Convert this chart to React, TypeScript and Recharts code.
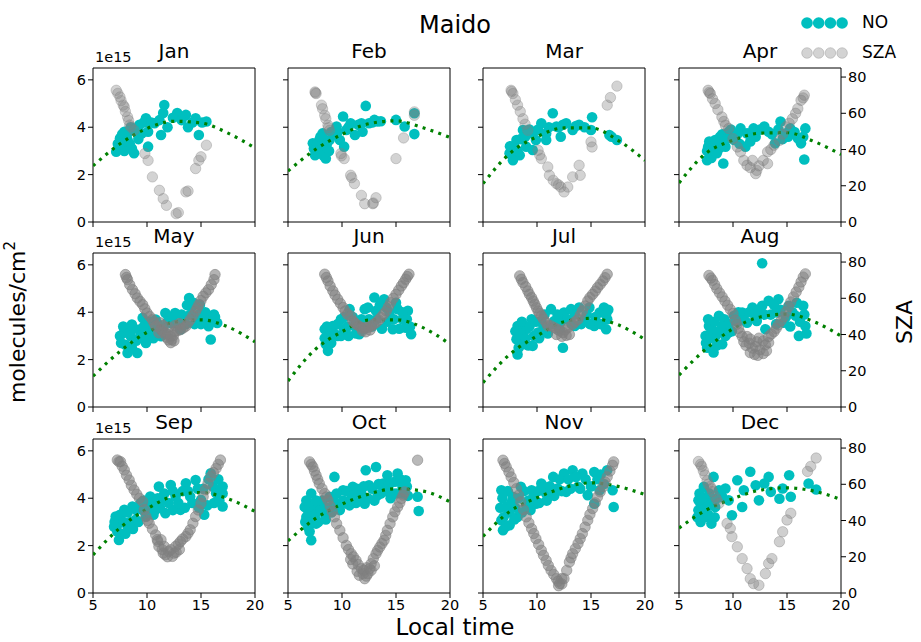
import { ComposedChart, Scatter, XAxis, YAxis, ReferenceLine } from 'recharts'

// 12 monthly panels, NO column (1e15 molecules/cm2) and SZA (deg) against local time (h)
const MONTHS = ['Jan', 'Feb', 'Mar', 'Apr', 'May', 'Jun', 'Jul', 'Aug', 'Sep', 'Oct', 'Nov', 'Dec']

const JAN_NO = [[7.15, 2.97], [7.6, 3.18], [7.5, 3.53], [7.9, 3.81], [8.2, 3.46], [8.1, 3.6], [8.4, 3.3], [8.8, 2.9], [8.5, 4.0], [9.0, 3.88], [9.3, 4.1], [9.5, 3.74], [9.9, 4.38], [10.1, 3.81], [10.1, 3.18], [10.7, 4.17], [11.15, 4.3], [11.3, 3.67], [11.5, 4.6], [11.6, 4.94], [11.9, 4.0], [12.8, 4.6], [13.6, 4.52], [13.8, 4.0], [14.5, 4.38], [15.5, 4.24], [14.8, 3.67],
  [7.3, 3.3], [7.7, 3.7], [7.9, 3.0], [8.0, 3.4], [8.3, 3.8], [8.6, 3.1], [9.2, 3.5], [9.7, 4.2], [10.4, 4.2], [12.4, 4.4], [13.2, 4.3], [14.2, 4.2], [15.1, 4.2]]
const JAN_SZA = [[7.15, 72.7], [7.3, 71], [7.5, 69], [7.6, 67], [7.8, 64.5], [7.9, 63.5], [8.0, 61], [8.2, 58], [8.3, 56], [8.4, 53.5], [8.5, 52.5], [8.8, 50.6], [9.8, 37.8], [10.1, 34], [10.5, 24.9], [11.15, 17.5], [11.5, 12.9], [11.8, 9.2], [12.7, 4.6], [12.9, 5.2], [13.6, 16.6], [13.8, 17.1], [14.5, 29.5], [14.8, 34], [15.0, 36], [15.5, 42.4]]

const FEB_NO = [[7.3, 3.32], [7.6, 3.04], [7.5, 2.82], [7.9, 3.46], [8.2, 3.74], [8.5, 2.68], [8.4, 3.18], [8.85, 3.46], [9.3, 3.67], [9.5, 4.03], [9.8, 3.46], [10.1, 4.45], [10.2, 3.18], [10.4, 3.88], [10.8, 4.17], [11.2, 3.67], [11.8, 4.17], [11.9, 3.81], [12.2, 4.9], [12.5, 4.17], [13.0, 4.31], [13.3, 4.24], [15.0, 4.31], [15.8, 4.03], [16.7, 4.59], [16.7, 3.71],
  [7.4, 3.1], [7.7, 3.3], [7.8, 2.9], [8.0, 3.6], [8.1, 3.1], [8.3, 2.8], [8.6, 3.3], [8.8, 3.0], [9.0, 3.8], [9.6, 3.8], [10.6, 4.0], [11.5, 4.1], [12.8, 4.2], [13.6, 4.25]]
const FEB_SZA = [[7.5, 71.8], [7.55, 71.3], [7.6, 70.9], [8.1, 64.5], [8.2, 62.5], [8.4, 58.9], [8.5, 57], [8.7, 53.4], [8.75, 52], [8.85, 50.6], [9.9, 37.8], [9.95, 36.5], [10.2, 35], [10.8, 25.8], [10.9, 24.5], [11.15, 21.2], [11.8, 14.7], [12.1, 10.1], [12.85, 10.1], [12.9, 10.5], [13.15, 13.4], [15.0, 35], [15.7, 46.4], [16.7, 60.8], [16.7, 58.9]]

const MAR_NO = [[7.46, 2.9], [7.77, 2.61], [8.1, 3.46], [7.6, 3.18], [8.7, 3.88], [8.4, 2.82], [9.0, 3.18], [9.6, 3.74], [9.6, 3.04], [9.9, 3.46], [10.4, 4.17], [10.85, 3.74], [10.85, 3.46], [11.46, 4.59], [11.8, 4.03], [12.2, 3.6], [12.7, 4.17], [13.3, 3.88], [13.9, 4.1], [15.0, 3.88], [15.1, 4.42], [16.7, 3.67], [17.4, 3.46],
  [7.5, 3.2], [7.7, 2.8], [7.9, 3.1], [8.2, 3.0], [8.5, 3.5], [8.9, 3.6], [9.3, 3.9], [10.1, 3.9], [11.1, 4.0], [12.0, 4.0], [12.4, 4.1], [13.6, 4.05], [14.4, 4.0], [16.9, 3.6]]
const MAR_SZA = [[7.6, 72.7], [7.65, 72], [7.77, 70.9], [8.0, 67.5], [8.2, 64.5], [8.45, 61], [8.7, 57], [8.9, 54], [9.15, 50.6], [10.1, 39.6], [10.25, 37], [10.4, 35], [11.0, 30.4], [11.15, 25.8], [11.5, 23], [11.8, 21.2], [12.0, 20.5], [12.2, 19.3], [12.5, 16.6], [12.85, 19.3], [13.3, 24.9], [13.9, 31.3], [14.0, 25.8], [15.0, 44.2], [15.1, 41.4], [16.5, 64.5], [16.8, 68.7], [17.4, 75]]

const APR_NO = [[7.6, 2.61], [7.7, 3.18], [7.9, 2.97], [8.35, 3.46], [8.8, 3.6], [9.1, 2.47], [8.7, 3.1], [9.3, 3.18], [9.6, 3.81], [10.1, 3.46], [10.7, 3.95], [11.15, 3.18], [11.3, 3.74], [11.9, 3.95], [12.1, 3.6], [12.9, 4.03], [13.3, 3.81], [13.9, 3.32], [14.4, 4.24], [14.9, 3.74], [15.3, 3.95], [16.0, 3.53], [16.3, 3.32], [16.7, 3.95], [16.6, 2.64],
  [7.6, 3.0], [7.8, 3.4], [8.0, 2.7], [8.2, 3.2], [8.5, 2.9], [8.6, 3.4], [9.0, 3.7], [9.4, 3.5], [9.8, 3.9], [10.4, 3.7], [10.6, 3.3], [11.6, 3.4], [12.5, 3.9], [13.6, 3.7], [14.2, 3.9], [14.6, 3.5], [15.1, 3.6], [15.7, 3.8], [16.5, 3.6]]
const APR_SZA = [[7.7, 72.7], [7.8, 71.5], [7.9, 70.9], [8.1, 68], [8.35, 65.4], [8.6, 62], [8.97, 58], [9.15, 55.5], [9.3, 53.4], [9.6, 51.6], [10.0, 46], [10.4, 41.4], [10.7, 38.7], [11.0, 34], [11.3, 31.3], [11.6, 30], [11.8, 34], [12.2, 28.5], [12.1, 26.7], [12.4, 31], [12.8, 34], [13.2, 32.2], [13.2, 38.7], [13.5, 40], [13.8, 42.4], [14.3, 45.1], [14.6, 48.5], [14.9, 52.5], [15.2, 54.5], [15.5, 57], [15.8, 60], [16.0, 62.6], [16.3, 67.2], [16.5, 68.5], [16.6, 70]]

const MAY_NO = [[7.9, 3.27], [8.0, 2.63], [8.2, 2.28], [8.5, 2.99], [8.6, 3.48], [9.1, 2.28], [9.3, 3.27], [9.6, 3.76], [9.9, 2.7], [10.3, 3.27], [10.8, 3.69], [11.3, 2.99], [11.7, 3.97], [12.2, 3.55], [12.6, 3.97], [13.1, 3.27], [13.4, 3.69], [13.9, 4.6], [14.2, 4.25], [14.6, 3.83], [14.9, 4.32], [15.2, 3.69], [15.7, 3.41], [16.2, 3.9], [16.5, 3.55], [15.9, 2.85],
  [7.5, 3.0], [7.6, 2.7], [7.8, 3.4], [8.3, 3.1], [8.6, 2.5], [8.8, 3.3], [9.0, 2.8], [9.4, 3.0], [9.7, 3.4], [10.0, 3.0], [10.2, 3.6], [10.6, 3.3], [10.6, 2.9], [11.0, 3.5], [11.0, 3.1], [11.5, 3.3], [11.9, 3.6], [12.4, 3.8], [12.8, 3.5], [13.2, 3.9], [13.6, 3.5], [14.0, 3.9], [14.4, 3.5], [14.8, 3.9], [15.0, 3.5], [15.4, 4.0], [15.5, 3.6], [16.0, 3.7], [16.3, 3.8], [14.3, 4.4], [13.7, 4.3]]
const MAY_SZA = [[8.0, 73.1], [8.1, 71.5], [8.2, 70.3], [8.4, 67.5], [8.65, 64.8], [8.9, 62.5], [9.1, 60.2], [9.35, 58.3], [9.6, 56.5], [9.8, 54.2], [10.0, 51.9], [10.25, 50], [10.5, 48.2], [10.65, 46.4], [10.8, 44.6], [11.1, 40.9], [11.2, 46.5], [11.3, 42.7], [11.5, 41.5], [11.5, 45], [11.7, 40.9], [11.8, 38.5], [11.9, 40], [12.0, 37], [12.0, 44], [12.2, 39], [12.2, 35.5], [12.3, 37.2], [12.45, 39.5], [12.5, 36.5], [12.6, 41.8], [12.6, 45], [12.85, 42.2], [13.0, 46], [13.1, 42.7], [13.35, 43.6], [13.6, 44.6], [13.8, 46.4], [14.0, 48.2], [14.25, 50.5], [14.5, 52.9], [14.65, 54.7], [14.8, 56.5], [15.0, 58.8], [15.2, 61.1], [15.45, 63], [15.7, 64.8], [15.95, 67.5], [16.2, 70.3], [16.3, 73.1]]

const JUN_NO = [[8.4, 3.28], [8.5, 2.65], [8.7, 2.37], [8.8, 3.0], [9.15, 3.42], [9.6, 3.0], [9.9, 3.7], [10.2, 3.28], [10.7, 4.13], [11.15, 3.42], [11.6, 3.07], [12.1, 4.13], [12.5, 3.7], [13.0, 4.62], [13.15, 4.06], [13.9, 4.55], [14.4, 3.99], [14.7, 3.28], [15.15, 4.13], [15.6, 3.7], [16.1, 4.06], [16.4, 3.07], [15.9, 3.35],
  [8.4, 2.9], [8.6, 3.4], [9.0, 2.7], [9.3, 3.1], [9.6, 3.5], [9.9, 3.0], [10.2, 3.8], [10.5, 3.4], [10.6, 3.0], [11.0, 3.8], [11.3, 3.1], [11.8, 3.7], [12.0, 3.3], [12.4, 4.2], [12.8, 3.4], [13.2, 3.7], [13.5, 4.3], [13.7, 3.3], [14.1, 4.2], [14.2, 3.6], [14.8, 3.7], [15.0, 4.4], [15.3, 3.3], [15.6, 4.0], [16.0, 3.7], [16.3, 3.4]]
const JUN_SZA = [[8.4, 73.3], [8.55, 71.5], [8.7, 69.6], [8.9, 66.8], [9.15, 64.1], [9.35, 61.8], [9.6, 59.5], [9.85, 57.2], [10.1, 54.9], [10.3, 53], [10.5, 51.2], [10.8, 50.3], [11.0, 47.5], [11.15, 46.6], [11.3, 45.7], [11.55, 44.8], [11.8, 43.8], [11.9, 42], [12.0, 43.5], [12.2, 43.8], [12.2, 41.5], [12.45, 44], [12.6, 42.5], [12.7, 44.7], [12.9, 45.5], [13.15, 46.6], [13.4, 48], [13.6, 49.4], [13.85, 51.2], [14.1, 53], [14.3, 55.3], [14.5, 57.6], [14.75, 60], [15.0, 62.2], [15.25, 64.5], [15.5, 66.8], [15.7, 68.6], [15.9, 70.5], [16.05, 72], [16.2, 73.3]]

const JUL_NO = [[8.2, 3.42], [8.1, 2.86], [8.2, 2.22], [8.7, 2.65], [9.0, 3.28], [9.5, 3.7], [9.6, 2.58], [10.1, 3.14], [10.4, 3.63], [10.85, 3.28], [11.3, 4.13], [11.6, 3.63], [12.1, 3.28], [12.4, 2.5], [12.5, 3.99], [13.15, 4.13], [13.5, 3.42], [13.9, 4.2], [14.4, 3.7], [14.85, 4.2], [15.3, 3.42], [15.8, 3.99], [16.2, 4.2], [16.5, 3.7], [16.4, 3.28],
  [8.0, 3.2], [8.3, 2.5], [8.5, 3.1], [8.6, 3.6], [8.9, 2.9], [9.2, 2.6], [9.3, 3.4], [9.7, 3.0], [9.9, 3.6], [10.2, 2.9], [10.6, 3.4], [10.7, 3.9], [11.0, 3.1], [11.5, 3.5], [11.9, 3.9], [12.2, 3.6], [12.8, 3.7], [13.2, 3.5], [13.5, 3.9], [14.1, 3.5], [14.6, 3.9], [14.9, 3.5], [15.4, 3.8], [15.9, 3.5], [16.4, 3.9], [16.6, 4.1]]
const JUL_SZA = [[8.4, 72.4], [8.55, 70.5], [8.7, 68.7], [8.95, 66.4], [9.15, 64.1], [9.3, 62.2], [9.5, 60.4], [9.65, 58.5], [9.8, 56.7], [9.95, 54.8], [10.1, 53], [10.25, 51.6], [10.4, 50.3], [10.6, 48.5], [10.85, 46.6], [11.0, 44.8], [11.3, 44.8], [11.6, 43.8], [11.8, 40], [11.9, 42.9], [12.1, 42], [12.3, 39], [12.4, 41.1], [12.6, 42.5], [12.7, 39.5], [12.85, 43.8], [13.0, 40], [13.3, 45.7], [13.5, 46.9], [13.8, 48.4], [14.0, 50.7], [14.2, 53], [14.45, 55.8], [14.7, 58.6], [14.9, 60.4], [15.15, 62.2], [15.4, 64], [15.6, 65.9], [15.85, 67.7], [16.1, 69.6], [16.3, 71.4], [16.5, 73.3]]

const AUG_NO = [[7.46, 3.0], [7.6, 2.5], [7.77, 3.42], [8.2, 2.3], [8.4, 3.0], [8.7, 3.85], [9.0, 2.65], [9.0, 3.42], [9.6, 3.14], [10.1, 3.85], [10.85, 3.99], [11.3, 3.56], [11.8, 4.2], [12.2, 3.63], [12.7, 4.27], [12.7, 6.07], [13.0, 3.28], [13.3, 4.48], [14.1, 3.99], [14.2, 4.55], [14.7, 3.56], [15.15, 4.27], [15.8, 3.85], [16.1, 3.0], [16.5, 4.27], [16.7, 3.42],
  [7.5, 2.7], [7.7, 3.7], [7.9, 2.9], [8.0, 3.3], [8.3, 3.6], [8.5, 2.6], [8.7, 3.2], [9.2, 3.7], [9.3, 3.0], [9.6, 3.5], [9.9, 3.2], [10.4, 3.6], [10.5, 4.0], [11.0, 3.7], [11.5, 4.0], [12.0, 3.9], [12.4, 4.1], [12.9, 3.9], [13.5, 3.9], [13.8, 4.3], [14.0, 3.5], [14.4, 4.1], [14.9, 3.8], [15.3, 3.4], [15.5, 4.0], [15.9, 4.4], [16.2, 3.6], [16.6, 3.9], [16.8, 3.1]]
const AUG_SZA = [[7.77, 72.6], [7.95, 71.2], [8.1, 69.9], [8.3, 67.6], [8.5, 65.3], [8.75, 63], [9.0, 60.8], [9.25, 58.5], [9.5, 56.2], [9.75, 53.9], [10.0, 51.6], [10.2, 48], [10.35, 45.7], [10.5, 43.4], [10.65, 41], [10.85, 38.9], [11.0, 36], [11.2, 34], [11.3, 38.9], [11.5, 35.2], [11.6, 30], [11.6, 37.5], [11.8, 32.5], [12.0, 29], [12.1, 33.4], [12.2, 36], [12.3, 28.5], [12.4, 38], [12.5, 31.6], [12.8, 29.5], [12.8, 36.5], [13.0, 34.3], [13.1, 31], [13.3, 35.5], [13.3, 38.9], [13.55, 40.3], [13.8, 41.6], [14.0, 43.4], [14.2, 45.3], [14.45, 47.6], [14.7, 49.8], [14.9, 52.5], [15.15, 55.3], [15.35, 58], [15.6, 60.8], [15.85, 63.5], [16.1, 66.2], [16.3, 69], [16.5, 71.7], [16.7, 73.5]]

const SEP_NO = [[7.1, 3.23], [6.95, 2.8], [7.25, 2.6], [7.4, 2.24], [7.9, 3.51], [8.2, 2.8], [8.65, 3.65], [8.95, 3.09], [9.4, 3.79], [9.9, 3.23], [10.3, 4.07], [10.8, 3.51], [11.1, 4.49], [11.4, 3.93], [11.7, 3.37], [12.2, 4.56], [12.65, 4.07], [13.1, 3.51], [13.6, 4.63], [14.0, 4.07], [14.5, 4.77], [15.0, 3.93], [15.3, 3.3], [15.9, 5.05], [16.4, 4.21], [17.0, 3.65], [17.0, 4.49],
  [7.0, 3.0], [7.3, 2.9], [7.5, 3.3], [7.6, 2.5], [7.8, 3.0], [8.0, 2.5], [8.2, 3.4], [8.5, 3.0], [8.7, 2.7], [9.0, 3.5], [9.2, 3.0], [9.6, 3.5], [9.7, 3.9], [10.0, 3.6], [10.5, 3.8], [10.6, 3.3], [11.0, 4.0], [11.2, 3.6], [11.6, 4.2], [12.0, 3.8], [12.4, 4.3], [12.4, 3.5], [12.9, 3.8], [13.3, 4.3], [13.5, 3.6], [13.8, 4.3], [14.2, 3.8], [14.7, 4.4], [14.8, 3.6], [15.2, 4.4], [15.6, 3.7], [15.7, 4.8], [16.1, 4.5], [16.2, 3.8], [16.6, 4.8], [16.7, 3.9], [17.0, 4.2], [16.8, 4.4]]
const SEP_SZA = [[7.25, 73.4], [7.4, 72.5], [7.55, 72.5], [7.7, 70], [7.9, 67.9], [8.1, 65], [8.35, 62.4], [8.55, 59.5], [8.8, 56.9], [9.05, 54.5], [9.3, 52.3], [9.6, 50.5], [9.75, 46], [9.9, 42.2], [10.05, 40], [10.2, 38.5], [10.5, 35.3], [10.8, 32.1], [10.95, 29.5], [11.0, 28.5], [11.1, 25.7], [11.3, 29.4], [11.4, 24], [11.5, 22], [11.6, 25.7], [11.7, 21.1], [11.9, 20], [12.0, 23], [12.2, 23.9], [12.35, 20.2], [12.5, 22], [12.65, 25.7], [12.7, 22.5], [12.9, 27], [13.0, 24], [13.1, 28.4], [13.3, 29.8], [13.6, 31.2], [13.8, 33], [14.0, 34.9], [14.25, 38.5], [14.5, 42.2], [14.75, 45.8], [15.0, 49.5], [15.2, 53.2], [15.4, 56.9], [15.65, 60.5], [15.9, 64.2], [16.15, 66.5], [16.4, 68.8], [16.6, 71], [16.8, 73.4]]

const OCT_NO = [[6.55, 3.63], [6.7, 3.21], [6.85, 2.79], [7.15, 2.23], [7.15, 4.2], [7.3, 3.63], [7.6, 2.93], [7.9, 3.77], [8.4, 3.35], [8.85, 4.06], [9.3, 4.9], [9.6, 3.63], [10.1, 4.34], [10.5, 3.77], [11.0, 4.48], [11.6, 4.06], [12.1, 3.77], [12.2, 5.18], [12.5, 4.55], [13.15, 5.32], [13.3, 4.13], [13.8, 4.62], [14.2, 4.97], [14.7, 4.2], [15.15, 5.04], [15.6, 4.48], [15.9, 4.76], [17.0, 4.06], [17.1, 3.46],
  [6.6, 3.0], [6.7, 3.9], [6.9, 3.4], [7.0, 2.6], [7.2, 3.0], [7.5, 3.3], [7.6, 3.9], [7.8, 3.0], [8.0, 3.5], [8.2, 3.9], [8.5, 3.1], [8.7, 3.6], [9.0, 3.4], [9.2, 3.9], [9.5, 4.2], [9.8, 3.5], [10.1, 3.9], [10.4, 4.3], [10.7, 3.7], [10.9, 4.1], [11.3, 3.8], [11.4, 4.4], [11.8, 4.2], [12.0, 4.5], [12.4, 4.0], [12.8, 4.4], [13.0, 3.9], [13.4, 4.6], [13.6, 4.2], [14.0, 4.3], [14.4, 4.6], [14.5, 4.0], [14.9, 4.7], [15.0, 4.2], [15.4, 4.8], [15.6, 4.2], [16.0, 4.5], [16.1, 4.1]]
const OCT_SZA = [[7.0, 72.4], [7.15, 71], [7.3, 69.6], [7.45, 67.3], [7.6, 65], [7.75, 62.7], [7.9, 60.4], [8.15, 57.6], [8.4, 54.9], [8.55, 53], [8.7, 51.2], [8.9, 48], [9.1, 45], [9.3, 42], [9.5, 38.3], [9.8, 34.6], [10.1, 30.5], [10.4, 26.3], [10.6, 24], [10.8, 18.5], [10.85, 21.7], [11.0, 16], [11.05, 20], [11.3, 18], [11.4, 12], [11.5, 15.7], [11.6, 9.8], [11.8, 13.4], [11.95, 10.6], [12.0, 12.5], [12.1, 7.9], [12.25, 9.3], [12.3, 14], [12.4, 10.7], [12.55, 13.4], [12.7, 16.2], [12.7, 12.5], [12.9, 19], [13.0, 15], [13.15, 21.7], [13.3, 23.5], [13.5, 25.4], [13.7, 27.3], [13.9, 29.1], [14.05, 31.8], [14.2, 34.6], [14.45, 38.3], [14.7, 42], [14.9, 44.8], [15.15, 47.5], [15.35, 49.8], [15.5, 52.1], [15.65, 54], [15.8, 55.8], [17.0, 73.3]]

const NOV_NO = [[6.7, 3.07], [6.85, 2.65], [6.7, 4.34], [7.15, 3.63], [7.46, 2.86], [7.77, 4.06], [8.2, 3.21], [8.5, 4.48], [9.0, 3.7], [9.5, 4.34], [9.9, 3.77], [10.4, 4.62], [10.85, 4.2], [11.5, 4.9], [11.9, 4.41], [12.5, 5.04], [12.7, 4.27], [13.3, 5.18], [13.8, 4.48], [14.2, 5.04], [14.7, 4.13], [15.3, 5.11], [15.3, 3.77], [15.8, 4.34], [16.5, 5.18], [17.0, 4.34], [17.1, 3.63],
  [6.6, 3.6], [6.8, 4.0], [6.9, 3.2], [7.1, 2.8], [7.3, 4.3], [7.4, 3.4], [7.6, 3.8], [7.9, 3.1], [8.0, 3.6], [8.3, 4.0], [8.6, 3.4], [8.8, 4.3], [9.2, 3.9], [9.4, 3.5], [9.7, 4.1], [10.1, 4.3], [10.2, 3.8], [10.6, 4.5], [10.9, 3.9], [11.2, 4.5], [11.6, 4.1], [12.1, 4.8], [12.3, 4.3], [12.9, 4.8], [13.1, 4.4], [13.6, 4.9], [14.0, 4.4], [14.5, 4.8], [15.0, 4.5], [15.6, 4.8], [15.9, 5.0], [16.2, 4.6]]
const NOV_SZA = [[6.85, 73.3], [7.0, 71.5], [7.15, 69.6], [7.4, 66.8], [7.6, 64.1], [7.85, 61], [8.1, 57.6], [8.3, 54], [8.5, 50.3], [8.75, 46], [9.0, 42], [9.25, 38.7], [9.5, 35.5], [9.7, 32.8], [9.9, 30], [10.15, 26.8], [10.4, 23.6], [10.6, 20.8], [10.85, 18], [11.05, 15.2], [11.3, 12.5], [11.55, 10.2], [11.8, 7.9], [11.95, 6.5], [12.0, 4], [12.1, 5.2], [12.3, 5], [12.3, 8], [12.5, 7.9], [12.75, 12.5], [13.0, 17.1], [13.15, 19.4], [13.3, 21.7], [13.55, 24.5], [13.8, 27.3], [14.0, 30], [14.2, 32.8], [14.45, 36.4], [14.7, 40.1], [14.9, 43.4], [15.15, 46.6], [15.4, 49.8], [15.6, 53], [15.85, 55.8], [16.1, 58.6], [16.3, 61.3], [16.5, 64.1], [16.75, 67.3], [17.0, 70.5], [17.1, 72.4]]

const DEC_NO = [[6.8, 3.49], [7.0, 3.0], [6.8, 3.91], [7.0, 3.77], [7.3, 4.48], [7.4, 3.21], [7.6, 3.91], [8.0, 2.93], [8.2, 4.9], [8.35, 3.63], [8.7, 4.34], [9.0, 4.06], [9.3, 4.41], [9.6, 3.91], [9.9, 3.28], [10.4, 4.76], [10.85, 3.63], [11.0, 4.34], [11.6, 5.12], [12.1, 4.55], [12.4, 3.91], [12.9, 4.62], [13.3, 4.9], [13.5, 4.27], [14.3, 3.98], [14.6, 4.41], [15.2, 4.97], [15.35, 4.06], [17.0, 4.62], [17.7, 4.37],
  [6.7, 3.2], [6.9, 4.2], [7.2, 3.5], [7.2, 4.0], [7.5, 3.6], [7.7, 3.3], [7.8, 4.2], [8.1, 3.8], [8.3, 3.2], [8.5, 4.0]]
const DEC_SZA = [[6.8, 72.6], [7.0, 71], [7.1, 69.9], [7.25, 67.5], [7.4, 65.2], [7.6, 62], [7.7, 60], [7.9, 58.8], [8.0, 57.5], [8.1, 56], [8.35, 53.2], [8.5, 51.5], [8.7, 49.5], [9.45, 38.4], [9.75, 35.7], [9.9, 31.1], [10.4, 25.5], [10.85, 19], [11.3, 13.5], [11.6, 7.9], [11.9, 5.2], [12.4, 4.3], [13.0, 10.7], [13.3, 16.3], [13.6, 19], [14.3, 28.3], [14.6, 33.8], [15.0, 40.3], [15.35, 44], [16.9, 67.1], [17.2, 69.9], [17.7, 74.5]]

// fitted curve, sampled at these hours
const FIT_HOURS = [5, 7.5, 10, 12.5, 15, 17.5, 20]
const JAN_FIT = [2.37, 3.3, 3.95, 4.25, 4.18, 3.75, 3.12]
const FEB_FIT = [2.15, 3.05, 3.7, 4.15, 4.27, 3.98, 3.57]
const MAR_FIT = [1.62, 2.9, 3.6, 3.97, 3.97, 3.45, 2.6]
const APR_FIT = [1.65, 2.9, 3.45, 3.75, 3.77, 3.4, 2.85]
const MAY_FIT = [1.3, 2.35, 3.15, 3.58, 3.68, 3.38, 2.75]
const JUN_FIT = [1.1, 2.42, 3.18, 3.67, 3.68, 3.35, 2.65]
const JUL_FIT = [1.03, 2.23, 3.0, 3.6, 3.74, 3.47, 2.85]
const AUG_FIT = [1.35, 2.45, 3.3, 3.8, 3.92, 3.6, 3.0]
const SEP_FIT = [1.61, 2.75, 3.55, 4.1, 4.24, 3.98, 3.44]
const OCT_FIT = [2.2, 3.13, 3.75, 4.18, 4.4, 4.3, 3.85]
const NOV_FIT = [2.39, 3.45, 4.02, 4.45, 4.65, 4.5, 4.15]
const DEC_FIT = [2.74, 3.5, 3.98, 4.34, 4.44, 4.3, 3.95]

const X_TICKS = [5, 10, 15, 20]
const NO_TICKS = [0, 2, 4, 6]
const SZA_TICKS = [0, 20, 40, 60, 80]

const NO_SETS = [JAN_NO, FEB_NO, MAR_NO, APR_NO, MAY_NO, JUN_NO, JUL_NO, AUG_NO, SEP_NO, OCT_NO, NOV_NO, DEC_NO]
const SZA_SETS = [JAN_SZA, FEB_SZA, MAR_SZA, APR_SZA, MAY_SZA, JUN_SZA, JUL_SZA, AUG_SZA, SEP_SZA, OCT_SZA, NOV_SZA, DEC_SZA]
const FIT_SETS = [JAN_FIT, FEB_FIT, MAR_FIT, APR_FIT, MAY_FIT, JUN_FIT, JUL_FIT, AUG_FIT, SEP_FIT, OCT_FIT, NOV_FIT, DEC_FIT]

const FONT = '"DejaVu Sans", sans-serif'
const CYAN = '#00bfbf'
const GRAY = '#808080'
const COL_LEFT = [93, 288, 483, 679]
const ROW_TOP = [68, 253, 439]
const PW = 162
const PH = 154
const LW = 40
const RW = 44
const TOPPAD = 4
const XH = 30
// darker look for the densely sampled months
const SZA_ALPHA = [0.35, 0.35, 0.35, 0.4, 0.6, 0.6, 0.6, 0.55, 0.55, 0.55, 0.55, 0.38]

const pts = (a: number[][]) => a.map(([x, y]) => ({ x, y }))

const noDot = (p: any) => <circle cx={p.cx} cy={p.cy} r={5.3} fill={CYAN} />
const noMark = () => <g />
const szaDot = (op: number) => (p: any) => (
  <circle cx={p.cx} cy={p.cy} r={5.2} fill={GRAY} fillOpacity={op} stroke={GRAY} strokeOpacity={op} strokeWidth={1} />
)

const tickStyle = { fontSize: 14.5, fill: '#000', fontFamily: FONT }
const fitLine = { stroke: '#008000', strokeWidth: 3.2, strokeDasharray: '3 5.3', fill: 'none' }

function Panel({ i }: { i: number }) {
  const col = i % 4
  const row = Math.floor(i / 4)
  const fit = FIT_HOURS.map((x, k) => ({ x, y: FIT_SETS[i][k] }))
  const blank = () => ''
  return (
    <div style={{ position: 'absolute', left: COL_LEFT[col] - LW, top: ROW_TOP[row] - TOPPAD }}>
      <ComposedChart width={LW + PW + RW} height={TOPPAD + PH + XH} margin={{ top: TOPPAD, right: 0, bottom: 0, left: 0 }}>
        <XAxis
          dataKey="x"
          type="number"
          domain={[5, 20]}
          ticks={X_TICKS}
          height={XH}
          allowDataOverflow
          stroke="#000"
          tickSize={5}
          tick={tickStyle}
          tickFormatter={row === 2 ? undefined : blank}
        />
        <YAxis
          yAxisId="no"
          dataKey="y"
          type="number"
          domain={[0, 6.5]}
          ticks={NO_TICKS}
          width={LW}
          allowDataOverflow
          stroke="#000"
          tickSize={5}
          tick={tickStyle}
          tickFormatter={col === 0 ? undefined : blank}
        />
        <YAxis
          yAxisId="sza"
          orientation="right"
          dataKey="y"
          type="number"
          domain={[0, 85]}
          ticks={SZA_TICKS}
          width={RW}
          allowDataOverflow
          stroke="#000"
          tickSize={5}
          tickLine={col === 3}
          tick={tickStyle}
          tickFormatter={col === 3 ? undefined : blank}
        />
        <ReferenceLine yAxisId="no" y={6.5} stroke="#000" strokeWidth={1} />
        <Scatter yAxisId="no" data={pts(NO_SETS[i])} dataKey="y" shape={noDot} isAnimationActive={false} />
        <Scatter
          yAxisId="no"
          data={fit}
          dataKey="y"
          line={fitLine}
          lineType="joint"
          lineJointType="monotoneX"
          shape={noMark}
          isAnimationActive={false}
        />
        <Scatter yAxisId="sza" data={pts(SZA_SETS[i])} dataKey="y" shape={szaDot(SZA_ALPHA[i])} isAnimationActive={false} />
      </ComposedChart>
    </div>
  )
}

const txt = (extra: any) => ({ position: 'absolute' as const, fontFamily: FONT, color: '#000', lineHeight: 1, whiteSpace: 'nowrap' as const, ...extra })

export default function App() {
  return (
    <div style={{ position: 'absolute', left: 0, top: 0, width: 921, height: 642, background: '#fff', overflow: 'hidden' }}>
      {MONTHS.map((m, i) => <Panel key={m} i={i} />)}
      {MONTHS.map((m, i) => (
        <div key={'t' + m} style={txt({ fontSize: 20, top: ROW_TOP[Math.floor(i / 4)] - 27, left: COL_LEFT[i % 4], width: PW, textAlign: 'center' })}>{m}</div>
      ))}
      {ROW_TOP.map(t => (
        <div key={'e' + t} style={txt({ fontSize: 14.5, top: t - 18, left: 95 })}>1e15</div>
      ))}
      <div style={txt({ fontSize: 24, top: 13, left: 355, width: 200, textAlign: 'center' })}>Maido</div>
      <div style={txt({ fontSize: 23, top: 616, left: 355, width: 200, textAlign: 'center' })}>Local time</div>
      <div style={txt({ fontSize: 22, top: 311, left: 18 - 100, width: 200, textAlign: 'center', transform: 'rotate(-90deg)' })}>
        molecules/cm<sup style={{ fontSize: 15, verticalAlign: 'top', position: 'relative', top: -4 }}>2</sup>
      </div>
      <div style={txt({ fontSize: 22, top: 311, left: 905 - 100, width: 200, textAlign: 'center', transform: 'rotate(-90deg)' })}>SZA</div>
      <svg style={{ position: 'absolute', left: 795, top: 10 }} width={60} height={56}>
        {[0, 1, 2, 3].map(k => <circle key={'a' + k} cx={12 + k * 11.7} cy={13} r={5.8} fill={CYAN} />)}
        {[0, 1, 2, 3].map(k => (
          <circle key={'b' + k} cx={12 + k * 11.7} cy={43} r={5.3} fill={GRAY} fillOpacity={0.35} stroke={GRAY} strokeOpacity={0.35} />
        ))}
      </svg>
      <div style={txt({ fontSize: 17, top: 14, left: 862 })}>NO</div>
      <div style={txt({ fontSize: 17, top: 44, left: 862 })}>SZA</div>
    </div>
  )
}
